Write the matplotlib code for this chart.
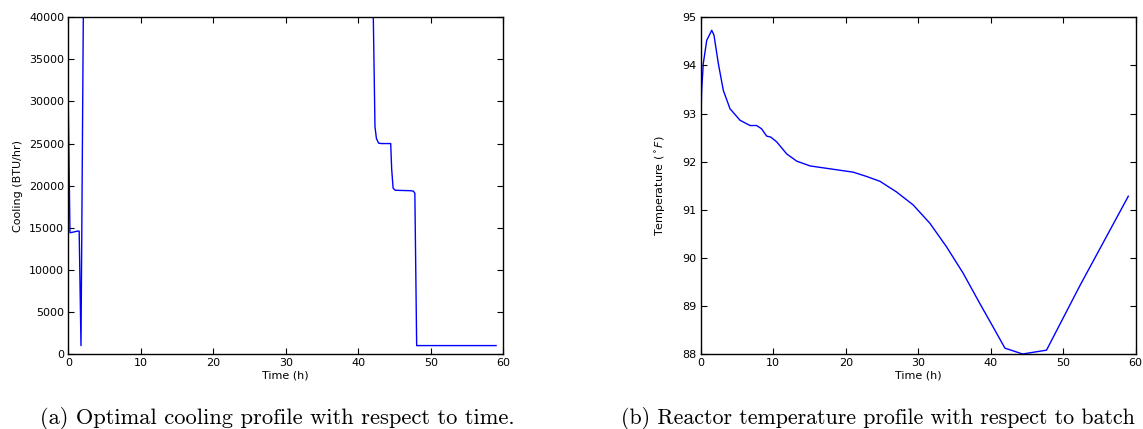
import matplotlib
matplotlib.use("Agg")
import matplotlib.pyplot as plt

# Cooling profile (left)
t_cool = [0.0, 0.23, 1.3, 1.5, 1.75, 2.07, 42.07, 42.3, 42.5, 42.8, 43.2, 44.47, 44.6, 44.8, 45.1, 47.2, 47.6, 47.8, 48.05, 59.0]
cooling = [29500, 14400, 14600, 14600, 1000, 40000, 40000, 27000, 25600, 25050, 25000, 25000, 22000, 19700, 19450, 19400, 19350, 19100, 1000, 1000]

# Temperature profile (right)
t_temp = [0.0, 0.04, 0.13, 0.36, 0.83, 1.52, 1.83, 2.43, 3.12, 4.04, 5.42, 6.8, 7.72, 8.41, 9.1, 9.66,
          10.48, 11.86, 13.24, 15.08, 18.3, 21.05, 22.9, 24.73, 27.0, 29.3, 31.6, 33.9, 36.2, 38.5,
          40.3, 41.97, 42.4, 44.4, 47.7, 52.3, 58.98]
temp = [92.1, 92.93, 93.48, 94.04, 94.52, 94.73, 94.63, 94.04, 93.48, 93.10, 92.86, 92.75, 92.75, 92.68,
        92.53, 92.51, 92.41, 92.16, 92.01, 91.91, 91.84, 91.78, 91.69, 91.59, 91.37, 91.10, 90.72,
        90.23, 89.68, 89.05, 88.57, 88.12, 88.10, 88.0, 88.08, 89.42, 91.28]

captions = ["(a) Optimal cooling profile with respect to time.",
            "(b) Reactor temperature profile with respect to batch"]

W, H = 1143, 429
fig = plt.figure(figsize=(W / 100, H / 100), dpi=100)

def px_axes(x0, x1, y0, y1):
    return fig.add_axes([x0 / W, 1 - y1 / H, (x1 - x0) / W, (y1 - y0) / H])

ax1 = px_axes(68.3, 503.3, 17.3, 354)
ax2 = px_axes(700.7, 1135.7, 17.3, 354)

ax1.plot(t_cool, cooling, color='b', lw=1.0)
ax1.set_xlim(0, 60)
ax1.set_ylim(0, 40000)
ax1.set_xticks(range(0, 61, 10))
ax1.set_yticks(range(0, 40001, 5000))
ax1.set_xlabel("Time (h)", fontsize=8, labelpad=2)
ax1.set_ylabel("Cooling (BTU/hr)", fontsize=8, labelpad=4)

ax2.plot(t_temp, temp, color='b', lw=1.0)
ax2.set_xlim(0, 60)
ax2.set_ylim(88, 95)
ax2.set_xticks(range(0, 61, 10))
ax2.set_yticks(range(88, 96))
ax2.set_xlabel("Time (h)", fontsize=8, labelpad=2)
ax2.set_ylabel(r"Temperature ($^\circ F$)", fontsize=8, labelpad=10)

for ax in (ax1, ax2):
    ax.tick_params(direction='in', top=True, right=True, length=4, width=0.8, labelsize=8, pad=3)
    for s in ax.spines.values():
        s.set_linewidth(1.0)

fig.text(40 / W, 1 - 424 / H, captions[0], fontsize=16.2, family='cmr10', va='baseline', ha='left')
fig.text(621 / W, 1 - 424 / H, captions[1], fontsize=15.8, family='cmr10', va='baseline', ha='left')

fig.savefig("out.png", dpi=100)
